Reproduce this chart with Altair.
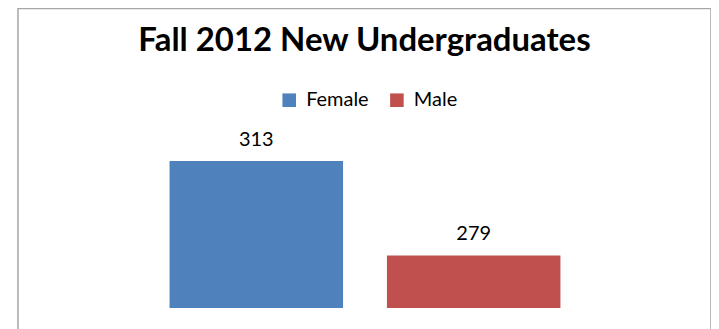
import altair as alt
import pandas as pd

# ---- data ----
categories = ["Female", "Male"]
values = [313, 279]
colors = ["#4F81BD", "#C0504D"]
title_text = "Fall 2012 New Undergraduates"
axis_min = 260  # Excel-chosen value axis minimum (axis hidden)

df = pd.DataFrame({"gender": categories, "count": values})

W = 695
H = 330
FONT = "Lato"

x = alt.X("gender:N", axis=None, sort=categories,
          scale=alt.Scale(range=[152, 544], paddingInner=0.2018, paddingOuter=0))
y = alt.Y("count:Q", axis=None,
          scale=alt.Scale(domain=[axis_min, max(values)], range=[300.5, 153]))

color = alt.Color(
    "gender:N",
    sort=categories,
    scale=alt.Scale(domain=categories, range=colors),
    legend=alt.Legend(
        title=None, orient="none", legendX=262, legendY=82, direction="horizontal",
        symbolType="square", symbolSize=185, symbolStrokeWidth=0,
        labelFont=FONT, labelFontSize=20, labelColor="black", labelOffset=7,
        columnPadding=18, padding=0,
    ),
)

bars = alt.Chart(df).mark_bar().encode(x=x, y=y, y2=alt.datum(axis_min), color=color)
labels = alt.Chart(df).mark_text(
    baseline="alphabetic", dy=-15.5, fontSize=20, font=FONT, color="black"
).encode(x=x, y=y, text="count:Q")

chart = alt.layer(bars, labels).properties(
    width=W, height=H,
    title=alt.TitleParams(text=title_text, font=FONT, fontSize=33, fontWeight="bold",
                          color="black", anchor="middle", baseline="alphabetic",
                          offset=-76, frame="group"),
    padding={"left": 10, "top": 0, "right": 0, "bottom": 0},
    autosize="none",
).configure_view(stroke="#a6a6a6", strokeWidth=1.5)

chart.save("out.html", embed_options={"renderer": "svg", "actions": False})
